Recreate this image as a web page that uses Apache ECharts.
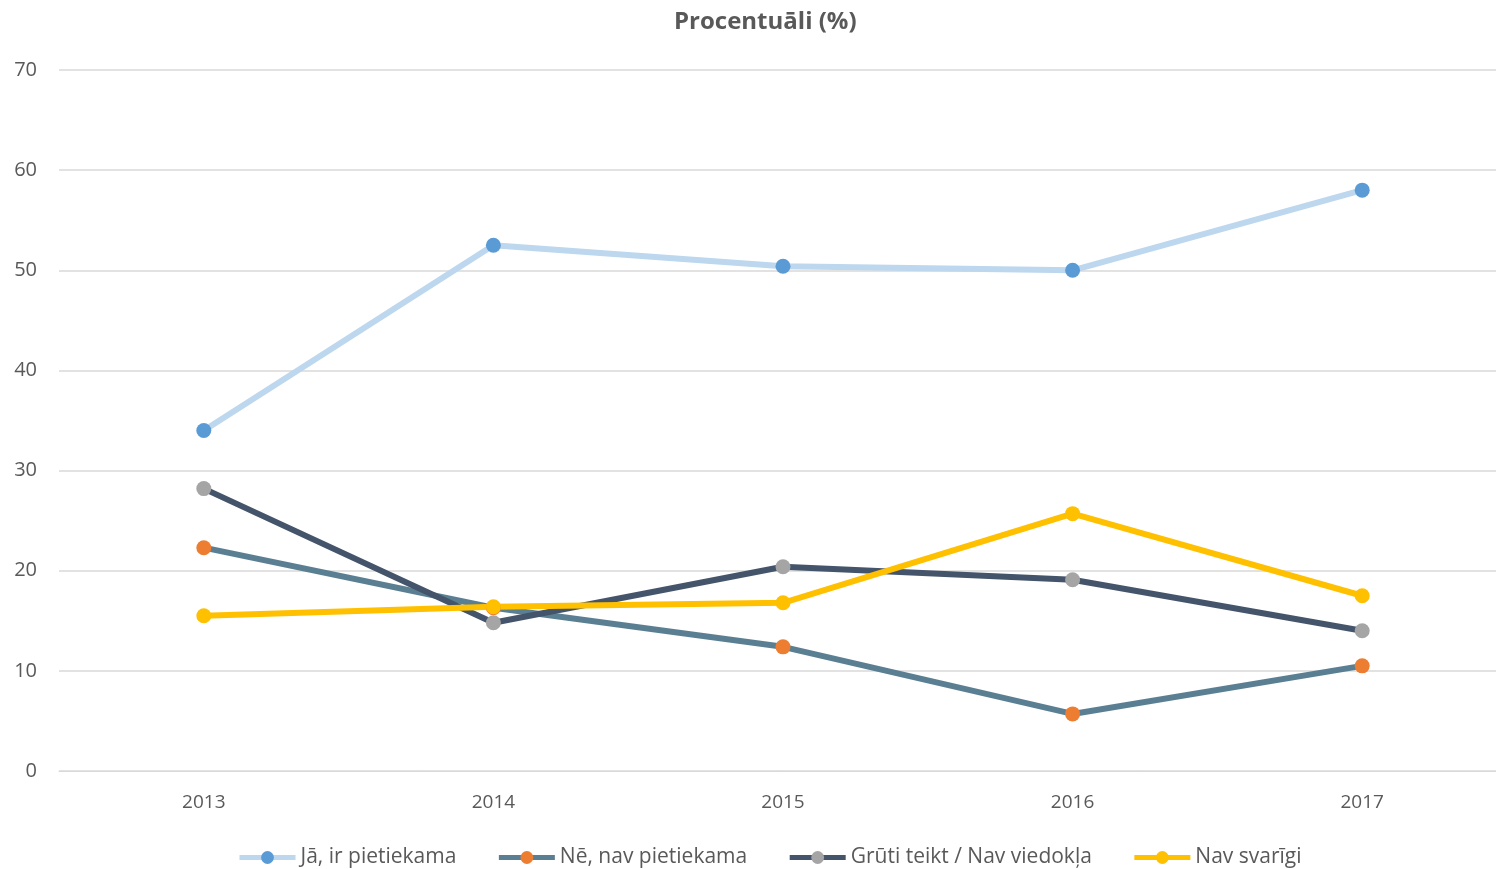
<!DOCTYPE html>
<html>
<head>
<meta charset="utf-8">
<script src="https://cdn.jsdelivr.net/npm/echarts@6/dist/echarts.min.js"></script>
<style>
  html, body { margin: 0; padding: 0; background: #fff; }
  #chart { width: 1496px; height: 869px; }
</style>
</head>
<body>
<div id="chart"></div>
<script>
// dati nolasīti no attēla
const years = ['2013', '2014', '2015', '2016', '2017']
const jaIrPietiekama = [34.0, 52.5, 50.4, 50.0, 58.0]
const neNavPietiekama = [22.3, 16.3, 12.4, 5.7, 10.5]
const grutiTeikt = [28.2, 14.8, 20.4, 19.1, 14.0]
const navSvarigi = [15.5, 16.4, 16.8, 25.7, 17.5]

const seriesDefs = [
  { name: 'Jā, ir pietiekama', data: jaIrPietiekama, line: '#BDD7EE', dot: '#5B9BD5' },
  { name: 'Nē, nav pietiekama', data: neNavPietiekama, line: '#5B7F92', dot: '#ED7D31' },
  { name: 'Grūti teikt / Nav viedokļa', data: grutiTeikt, line: '#44546A', dot: '#A5A5A5' },
  { name: 'Nav svarīgi', data: navSvarigi, line: '#FFC000', dot: '#FFC000' }
]

const font = '"Open Sans", "Noto Sans", sans-serif'

const myChart = echarts.init(document.getElementById('chart'))
myChart.setOption({
  animation: false,
  textStyle: { fontFamily: font },
  title: {
    text: 'Procentuāli (%)',
    left: 669,
    top: 5,
    textStyle: { fontSize: 24, fontWeight: 'bold', color: '#595959', fontFamily: font }
  },
  legend: {
    top: 842,
    left: 232,
    itemWidth: 56,
    itemHeight: 16,
    itemGap: 40,
    lineStyle: { width: 5 },
    textStyle: { fontSize: 21, color: '#595959', fontFamily: font },
    data: seriesDefs.map(s => s.name)
  },
  grid: { left: 59, width: 1448, top: 70, bottom: 98, outerBoundsMode: 'none' },
  xAxis: {
    type: 'category',
    data: years,
    boundaryGap: true,
    axisLine: { lineStyle: { color: '#D9D9D9', width: 1 } },
    axisTick: { show: false },
    axisLabel: { fontSize: 19, color: '#595959', margin: 22 }
  },
  yAxis: {
    type: 'value',
    min: 0,
    max: 70,
    interval: 10,
    axisLine: { show: false },
    axisTick: { show: false },
    axisLabel: { fontSize: 20, color: '#595959', margin: 22 },
    splitLine: { lineStyle: { color: '#D9D9D9', width: 1.5 } }
  },
  series: seriesDefs.map(s => ({
    name: s.name,
    type: 'line',
    data: s.data,
    symbol: 'circle',
    symbolSize: 15,
    showSymbol: true,
    lineStyle: { color: s.line, width: 6 },
    itemStyle: { color: s.dot, borderWidth: 0 },
    emphasis: { disabled: true }
  }))
})
</script>
</body>
</html>
